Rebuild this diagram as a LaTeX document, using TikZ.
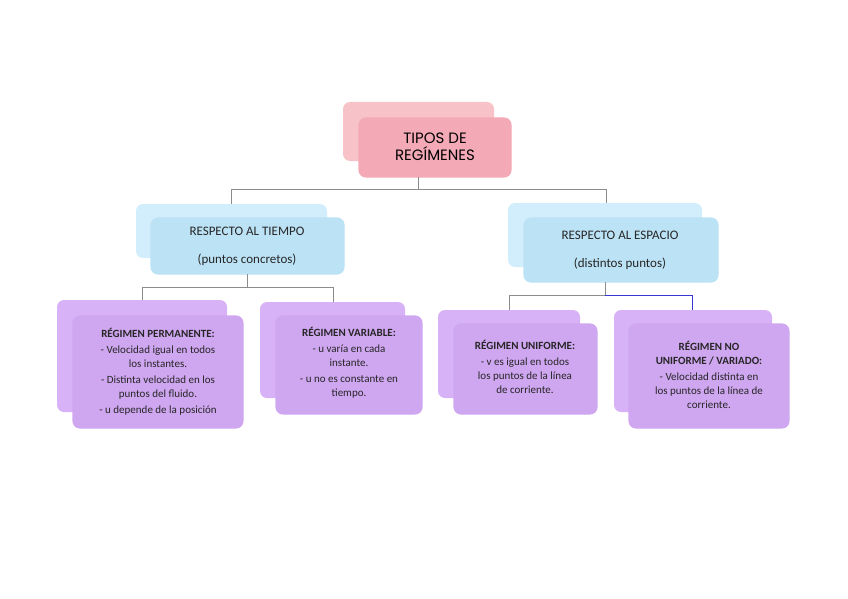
\documentclass[tikz,border=0pt]{standalone}
\usepackage{fontspec}
\setmainfont{Carlito}
\newfontfamily\titlefont{Poppins}
\definecolor{pk}{HTML}{F8C3C8}
\definecolor{pkb}{HTML}{F3A9B6}
\definecolor{bl}{HTML}{D2EDFB}
\definecolor{blb}{HTML}{BCE2F6}
\definecolor{pu}{HTML}{D7B2F6}
\definecolor{pub}{HTML}{CFA6F0}
\definecolor{ln}{HTML}{8C8C8C}
\begin{document}
\begin{tikzpicture}[x=1pt,y=-1pt,
 back/.style={rounded corners=7pt},
 front/.style={fill=white,draw,line width=1.1pt,rounded corners=7pt},
 conn/.style={ln,line width=0.9pt},
 txt/.style={align=center,font=\fontsize{11}{14}\selectfont,text=black!85}]
\useasboundingbox (0,0) rectangle (848,599);
% title
\fill[pk,back] (343,102) rectangle (494,161);
\draw[front,pkb] (359,118) rectangle (511,177);
\node[align=center,font=\titlefont\fontsize{15}{17}\selectfont] (t) at (435,147) {TIPOS DE\\REGÍMENES};
% mids
\fill[bl,back] (136,204) rectangle (327,258);
\draw[front,blb] (151,218) rectangle (344,274);
\node[txt,font=\fontsize{13}{28}\selectfont] (m1) at (247,246) {RESPECTO AL TIEMPO\\(puntos concretos)};
\fill[bl,back] (508,203) rectangle (702,267);
\draw[front,blb] (524,218) rectangle (718,282);
\node[txt,font=\fontsize{13}{28}\selectfont] (m2) at (620,250) {RESPECTO AL ESPACIO\\(distintos puntos)};
% connectors
\coordinate (ta) at (418,177); \coordinate (tb) at (418,189);
\draw[conn] (ta)--(tb) (231,189)--(606,189) (231,189)--(231,204) (606,189)--(606,203);
\draw[conn] (247,274)--(247,287) (142,287)--(333,287) (142,287)--(142,301) (333,287)--(333,302);
\draw[conn] (605,282)--(605,295) (509,295)--(692,295) (509,295)--(509,310);
\draw[conn,blue!60!ln] (605,295)--(692,295)--(692,310);
% bottom
\fill[pu,back] (57,300) rectangle (227,412);
\draw[front,pub] (73,316) rectangle (243,428);
\node[txt] (b1) at (158,372) {\textbf{RÉGIMEN PERMANENTE:}\\[2pt]- Velocidad igual en todos\\los instantes.\\[2pt]- Distinta velocidad en los\\puntos del fluido.\\[2pt]- u depende de la posición};
\fill[pu,back] (260,302) rectangle (405,398);
\draw[front,pub] (276,316) rectangle (422,414);
\node[txt] (b2) at (349,363) {\textbf{RÉGIMEN VARIABLE:}\\[2pt]- u varía en cada\\instante.\\[2pt]- u no es constante en\\tiempo.};
\fill[pu,back] (438,310) rectangle (580,398);
\draw[front,pub] (454,324) rectangle (597,414);
\node[txt] (b3) at (525,367) {\textbf{RÉGIMEN UNIFORME:}\\[2pt]- v es igual en todos\\los puntos de la línea\\de corriente.};
\fill[pu,back] (614,310) rectangle (772,412);
\draw[front,pub] (629,324) rectangle (789,428);
\node[txt] (b4) at (709,375) {\textbf{RÉGIMEN NO}\\\textbf{UNIFORME / VARIADO:}\\[2pt]- Velocidad distinta en\\los puntos de la línea de\\corriente.};
\end{tikzpicture}
\end{document}
